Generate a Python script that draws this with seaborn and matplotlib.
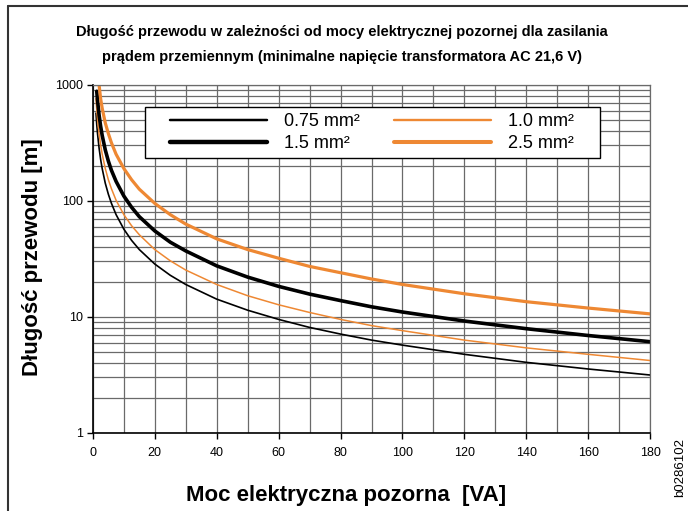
import matplotlib
matplotlib.use("Agg")
import matplotlib.pyplot as plt
import matplotlib.ticker as mticker
from matplotlib.lines import Line2D
from matplotlib.patches import Rectangle
import seaborn as sns
import numpy as np
import pandas as pd

# Moc pozorna [VA]
moc = [1, 1.25, 1.5, 2, 2.5, 3, 4, 5, 6, 7.5, 10, 12.5, 15, 20, 25, 30, 40, 50,
       60, 70, 80, 90, 100, 120, 140, 160, 180]

# Długość przewodu [m]
dl_075 = [570, 455, 380, 285, 228, 190, 142, 114, 95, 76, 57, 45.6, 38, 28.5, 22.8,
          19, 14.2, 11.4, 9.5, 8.1, 7.1, 6.3, 5.7, 4.75, 4.05, 3.55, 3.15]
dl_10 = [760, 610, 505, 380, 304, 253, 190, 152, 127, 101, 76, 61, 51, 38, 30.4,
         25.3, 19, 15.2, 12.7, 10.9, 9.5, 8.4, 7.6, 6.3, 5.4, 4.75, 4.2]
dl_15 = [np.nan, 880, 735, 550, 440, 367, 275, 220, 183, 147, 110, 88, 73, 55, 44,
         37, 27.5, 22, 18.3, 15.7, 13.8, 12.2, 11, 9.2, 7.9, 6.9, 6.1]
dl_25 = [np.nan, np.nan, np.nan, 1000, 760, 630, 470, 380, 316, 252, 190, 152, 126,
         95, 76, 63, 47, 38, 32, 27.2, 24, 21.2, 19, 15.8, 13.5, 11.9, 10.6]

etykiety = ["0.75 mm²", "1.0 mm²", "1.5 mm²", "2.5 mm²"]
serie = [dl_075, dl_10, dl_15, dl_25]
kolory = ["black", "#EE8833", "black", "#EE8833"]
grubosci = [1.2, 1.1, 2.6, 2.3]

sns.set_theme(style="white")
plt.rcParams["font.family"] = ["Liberation Sans", "DejaVu Sans"]
plt.rcParams["text.color"] = "black"
plt.rcParams["axes.labelcolor"] = "black"
plt.rcParams["xtick.color"] = "black"
plt.rcParams["ytick.color"] = "black"

fig = plt.figure(figsize=(6.88, 5.11), dpi=100)
ax = fig.add_axes([0.135, 0.153, 0.81, 0.681])

for y, lab, c, lw in zip(serie, etykiety, kolory, grubosci):
    df = pd.DataFrame({"moc": moc, "dl": y}).dropna()
    sns.lineplot(data=df, x="moc", y="dl", color=c, linewidth=lw, ax=ax,
                 label=lab, legend=False)

ax.set_yscale("log")
ax.set_xlim(0, 180)
ax.set_ylim(1, 1000)
ax.xaxis.set_major_locator(mticker.MultipleLocator(20))
ax.xaxis.set_minor_locator(mticker.MultipleLocator(10))
ax.yaxis.set_major_locator(mticker.LogLocator(base=10))
ax.yaxis.set_minor_locator(mticker.LogLocator(base=10, subs=np.arange(2, 10)))
ax.yaxis.set_major_formatter(mticker.FuncFormatter(lambda v, p: f"{v:g}"))
ax.yaxis.set_minor_formatter(mticker.NullFormatter())

ax.grid(which="both", axis="both", color="#6a6a6a", linewidth=0.9)
ax.set_axisbelow(True)
for s in ["top", "right"]:
    ax.spines[s].set_color("#6a6a6a")
    ax.spines[s].set_linewidth(0.9)
for s in ["left", "bottom"]:
    ax.spines[s].set_color("black")
    ax.spines[s].set_linewidth(1.2)

ax.tick_params(axis="both", which="major", direction="out", length=4, width=1,
               color="black", labelsize=9, pad=3, bottom=True, left=True)
ax.tick_params(axis="x", which="minor", bottom=False)
ax.tick_params(axis="y", which="minor", left=False)
ax.tick_params(axis="x", pad=6)

ax.set_xlabel("Moc elektryczna pozorna  [VA]", fontsize=16, fontweight="bold")
ax.set_ylabel("Długość przewodu [m]", fontsize=16, fontweight="bold")
ax.xaxis.set_label_coords(0.455, -0.15)
ax.yaxis.set_label_coords(-0.09, 0.505)

fig.text(0.497, 0.913, "Długość przewodu w zależności od mocy elektrycznej pozornej dla zasilania\n"
         "prądem przemiennym (minimalne napięcie transformatora AC 21,6 V)",
         ha="center", va="center", fontsize=10.5, fontweight="bold",
         family=["Liberation Sans Narrow", "Liberation Sans", "DejaVu Sans"], linespacing=2.0)

# ramka legendy
ax.add_patch(Rectangle((0.093, 0.790), 0.817, 0.147, transform=ax.transAxes,
                       facecolor="white", edgecolor="black", linewidth=1.0, zorder=4))

uchwyty = [Line2D([], [], color=kolory[i], linewidth=grubosci[i] + 0.6) for i in [0, 2, 1, 3]]
podpisy = [etykiety[i] for i in [0, 2, 1, 3]]
leg = ax.legend(uchwyty, podpisy, loc="upper left", bbox_to_anchor=(0.138, 0.918),
                ncol=2, fontsize=13, handlelength=5.4, handletextpad=0.95,
                columnspacing=1.85, frameon=False, borderpad=0,
                labelspacing=0.28, borderaxespad=0)
leg.set_zorder(5)

fig.text(0.988, 0.085, "b0286102", rotation=90, ha="center", va="center", fontsize=9.5)

# ramka rysunku
fig.add_artist(Line2D([8 / 688, 8 / 688], [0, 1 - 6 / 511], transform=fig.transFigure,
                      color="#333333", linewidth=1.5))
fig.add_artist(Line2D([8 / 688, 1], [1 - 6 / 511, 1 - 6 / 511], transform=fig.transFigure,
                      color="#333333", linewidth=1.5))

fig.savefig("out.png", dpi=100)
